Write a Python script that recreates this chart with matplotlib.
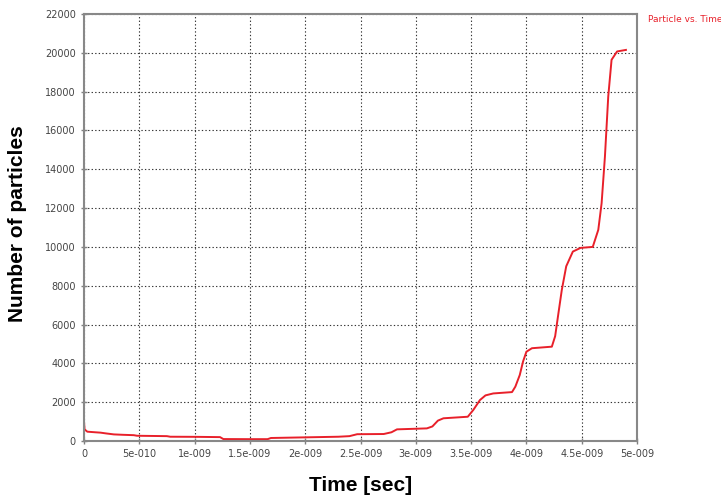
import numpy as np
import matplotlib
matplotlib.use('Agg')
import matplotlib.pyplot as plt
from matplotlib.ticker import FixedLocator

# time in ns, number of particles
time_ns = [0.000, 0.005, 0.03, 0.10, 0.15, 0.20, 0.27, 0.35, 0.45, 0.48,
           0.75, 0.78, 1.00, 1.23, 1.26, 1.50, 1.66, 1.69, 2.02, 2.30,
           2.40, 2.47, 2.71, 2.78, 2.83, 3.10, 3.15, 3.20, 3.25, 3.47,
           3.52, 3.58, 3.63, 3.70, 3.87, 3.90, 3.94, 3.97, 4.00, 4.05,
           4.23, 4.26, 4.29, 4.32, 4.36, 4.42, 4.49, 4.60, 4.65, 4.68,
           4.71, 4.74, 4.77, 4.82, 4.90]
particles = [1000, 600, 480, 450, 430, 390, 340, 320, 300, 270,
             250, 220, 215, 200, 100, 95, 95, 155, 190, 220,
             250, 350, 360, 450, 600, 650, 750, 1050, 1170, 1250,
             1600, 2110, 2350, 2450, 2520, 2800, 3400, 4100, 4600, 4780,
             4860, 5400, 6600, 7780, 9000, 9760, 9950, 10000, 10880, 12250,
             14650, 17750, 19640, 20070, 20150]

x_ticks = [0, 5e-10, 1e-9, 1.5e-9, 2e-9, 2.5e-9, 3e-9, 3.5e-9, 4e-9, 4.5e-9, 5e-9]
x_labels = ['0', '5e-010', '1e-009', '1.5e-009', '2e-009', '2.5e-009',
            '3e-009', '3.5e-009', '4e-009', '4.5e-009', '5e-009']
y_ticks = list(range(0, 22001, 2000))

fig = plt.figure(figsize=(7.21, 4.99), dpi=100)
ax = fig.add_axes([84/721, 58/499, 553/721, 427/499])

t = np.array(time_ns) * 1e-9
ax.plot(t, particles, color='#e8202a', lw=1.4, label='Particle vs. Time')

ax.set_xlim(0, 5e-9)
ax.set_ylim(0, 22000)
ax.xaxis.set_major_locator(FixedLocator(x_ticks))
ax.set_xticklabels(x_labels)
ax.set_yticks(y_ticks)
ax.tick_params(labelsize=7, labelcolor='#444444', colors='#808080',
               direction='inout', length=5, width=1)
ax.grid(True, color='#333333', linestyle=(0, (1.2, 2)), lw=0.8)
for s in ax.spines.values():
    s.set_color('#888888')
    s.set_linewidth(1.5)

ax.set_xlabel('Time [sec]', fontsize=15, fontweight='bold',
              family='Liberation Sans', labelpad=12)
ax.set_ylabel('Number of particles', fontsize=15, fontweight='bold',
              family='Liberation Sans')
ax.yaxis.set_label_coords(-0.103, 0.508)

fig.text(648/721, 1 - 20/499, 'Particle vs. Time', color='#e8202a',
         fontsize=6.5, va='center', ha='left')

plt.savefig('out.png', dpi=100)
